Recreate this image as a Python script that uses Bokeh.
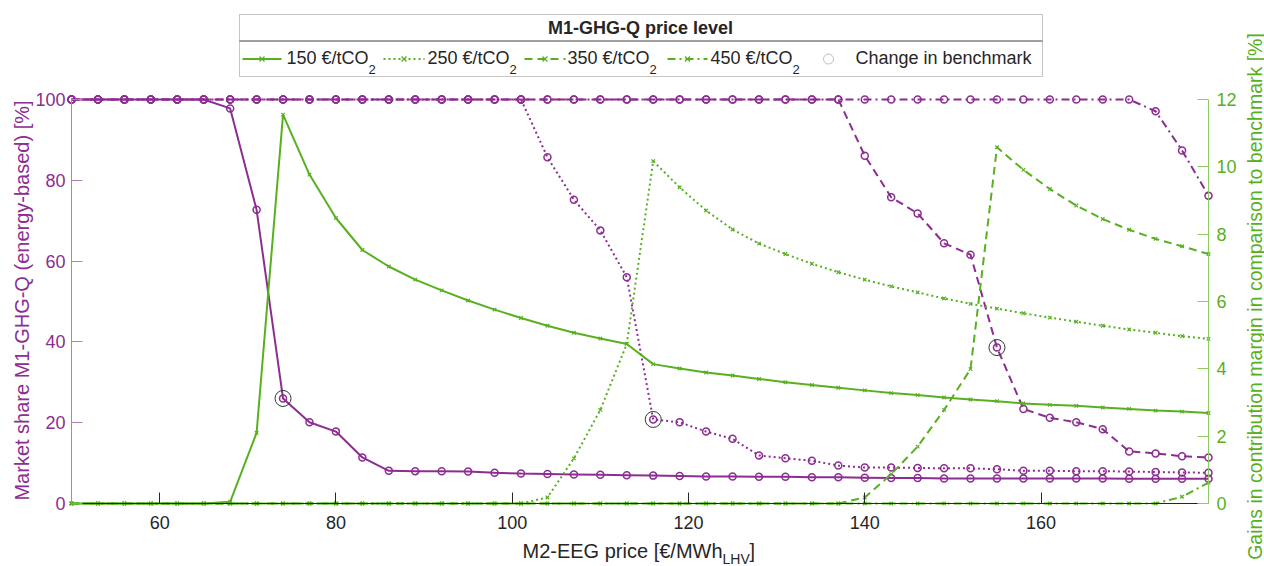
from math import pi
from bokeh.plotting import figure
from bokeh.models import Range1d, LinearAxis, FixedTicker, Label, BoxAnnotation, Arrow
from bokeh.embed import file_html
from bokeh.resources import INLINE

# ---------------- data ----------------
price = [50, 53, 56, 59, 62, 65, 68, 71, 74, 77, 80, 83, 86, 89, 92, 95, 98, 101, 104, 107,
         110, 113, 116, 119, 122, 125, 128, 131, 134, 137, 140, 143, 146, 149, 152, 155, 158,
         161, 164, 167, 170, 173, 176, 179]

share_150 = [100, 100, 100, 100, 100, 100, 97.8, 72.7, 26.0, 20.1, 17.8, 11.4, 8.1, 8.0, 8.0,
             7.9, 7.6, 7.4, 7.3, 7.2, 7.1, 7.0, 6.9, 6.8, 6.7, 6.7, 6.6, 6.6, 6.5, 6.5, 6.4,
             6.3, 6.3, 6.2, 6.2, 6.2, 6.2, 6.2, 6.2, 6.2, 6.1, 6.1, 6.1, 6.1]
gain_150 = [0, 0, 0, 0, 0, 0, 0.05, 2.1, 11.55, 9.77, 8.48, 7.53, 7.04, 6.65, 6.33, 6.03, 5.76,
            5.51, 5.28, 5.07, 4.90, 4.74, 4.14, 4.01, 3.89, 3.80, 3.70, 3.60, 3.52, 3.44, 3.36,
            3.28, 3.22, 3.15, 3.09, 3.04, 2.97, 2.93, 2.90, 2.85, 2.81, 2.76, 2.73, 2.69]

share_250 = [100, 100, 100, 100, 100, 100, 100, 100, 100, 100, 100, 100, 100, 100, 100, 100,
             100, 100, 85.7, 75.2, 67.6, 56.0, 20.8, 20.1, 17.8, 16.0, 11.9, 11.2, 10.6, 9.4,
             8.9, 8.9, 8.8, 8.7, 8.7, 8.5, 8.1, 8.1, 8.0, 8.0, 7.9, 7.8, 7.7, 7.6]
gain_250 = [0, 0, 0, 0, 0, 0, 0, 0, 0, 0, 0, 0, 0, 0, 0, 0, 0, 0, 0.18, 1.34, 2.78, 4.74,
            10.17, 9.39, 8.70, 8.14, 7.72, 7.41, 7.12, 6.87, 6.65, 6.45, 6.27, 6.09, 5.93,
            5.79, 5.65, 5.52, 5.40, 5.28, 5.17, 5.07, 4.97, 4.89]

share_350 = [100, 100, 100, 100, 100, 100, 100, 100, 100, 100, 100, 100, 100, 100, 100, 100,
             100, 100, 100, 100, 100, 100, 100, 100, 100, 100, 100, 100, 100, 100, 86.1, 75.8,
             71.8, 64.4, 61.6, 38.6, 23.4, 21.2, 20.1, 18.4, 12.9, 12.4, 11.7, 11.4]
gain_350 = [0, 0, 0, 0, 0, 0, 0, 0, 0, 0, 0, 0, 0, 0, 0, 0, 0, 0, 0, 0, 0, 0, 0, 0, 0, 0, 0,
            0, 0, 0, 0.18, 0.87, 1.69, 2.78, 3.99, 10.58, 9.91, 9.34, 8.85, 8.45, 8.13, 7.86,
            7.64, 7.41]

share_450 = [100, 100, 100, 100, 100, 100, 100, 100, 100, 100, 100, 100, 100, 100, 100, 100,
             100, 100, 100, 100, 100, 100, 100, 100, 100, 100, 100, 100, 100, 100, 100, 100,
             100, 100, 100, 100, 100, 100, 100, 100, 100, 97.1, 87.4, 76.2]
gain_450 = [0, 0, 0, 0, 0, 0, 0, 0, 0, 0, 0, 0, 0, 0, 0, 0, 0, 0, 0, 0, 0, 0, 0, 0, 0, 0, 0,
            0, 0, 0, 0, 0, 0, 0, 0, 0, 0, 0, 0, 0, 0, 0, 0.2, 0.62]

bench_x = [74, 116, 155]
bench_y = [26.0, 20.8, 38.6]

levels = ["150", "250", "350", "450"]
x_ticks = [60, 80, 100, 120, 140, 160]
left_ticks = [0, 20, 40, 60, 80, 100]
right_ticks = [0, 2, 4, 6, 8, 10, 12]

# ---------------- geometry / style ----------------
W, H = 1264, 566
FL, FR, FT, FB = 71, 1208, 99, 503       # pixel box of the plotted area
XMIN, XMAX = 50, 179
YMAX, RMAX = 100, 12

PURPLE = "#8C2D91"
GREEN = "#58B021"
DARK = "#262626"
FONT = "Liberation Sans"
dashes = {"150": "solid", "250": "2 3", "350": "8 5", "450": "8 4 2 4"}
shares = {"150": share_150, "250": share_250, "350": share_350, "450": share_450}
gains = {"150": gain_150, "250": gain_250, "350": gain_350, "450": gain_450}

kx = (FR - FL) / (XMAX - XMIN)
ky = (FB - FT) / YMAX
kr = (FB - FT) / RMAX

p = figure(width=W, height=H,
           x_range=Range1d(XMIN - FL / kx, XMAX + (W - FR) / kx),
           y_range=Range1d(-(H - FB) / ky, YMAX + FT / ky),
           output_backend="svg", toolbar_location=None,
           min_border_left=0, min_border_right=0, min_border_top=0, min_border_bottom=0)
p.extra_y_ranges = {"gain": Range1d(-(H - FB) / kr, RMAX + FT / kr)}
p.outline_line_color = None
p.xgrid.visible = False
p.ygrid.visible = False
p.background_fill_color = "white"
p.border_fill_color = "white"

# axes
xa = p.xaxis[0]
xa.fixed_location = 0
xa.bounds = (XMIN, XMAX)
xa.ticker = FixedTicker(ticks=x_ticks)
xa.axis_line_color = DARK
xa.major_tick_line_color = DARK
xa.major_tick_in = 11
xa.major_tick_out = 0
xa.minor_tick_line_color = None
xa.major_label_text_font = FONT
xa.major_label_text_font_size = "18px"
xa.major_label_text_color = DARK
xa.major_label_standoff = 12

ya = p.yaxis[0]
ya.fixed_location = XMIN
ya.bounds = (0, YMAX)
ya.ticker = FixedTicker(ticks=left_ticks)
ya.axis_line_color = "#B47FBA"
ya.major_tick_line_color = "#B47FBA"
ya.major_tick_in = 11
ya.major_tick_out = 0
ya.minor_tick_line_color = None
ya.major_label_text_font = FONT
ya.major_label_text_font_size = "18px"
ya.major_label_text_color = PURPLE
ya.major_label_standoff = 6

ra = LinearAxis(y_range_name="gain", ticker=FixedTicker(ticks=right_ticks),
                fixed_location=XMAX, bounds=(0, RMAX))
ra.axis_line_color = "#8ECB64"
ra.major_tick_line_color = "#8ECB64"
ra.major_tick_in = 11
ra.major_tick_out = 0
ra.minor_tick_line_color = None
ra.major_label_text_font = FONT
ra.major_label_text_font_size = "18px"
ra.major_label_text_color = GREEN
ra.major_label_standoff = 8
p.add_layout(ra, "right")

# data
for lv in levels:
    p.line(price, shares[lv], line_color=PURPLE, line_width=2, line_dash=dashes[lv])
    p.scatter(price, shares[lv], marker="circle", size=7, line_color=PURPLE,
              fill_alpha=0, line_width=1.5)
for lv in levels:
    p.line(price, gains[lv], line_color=GREEN, line_width=2, line_dash=dashes[lv],
           y_range_name="gain")
    p.scatter(price, gains[lv], marker="x", size=5, line_color=GREEN, line_width=1.2,
              y_range_name="gain")
p.scatter(bench_x, bench_y, marker="circle", size=16, line_color="#333333",
          fill_alpha=0, line_width=1)

# ---------------- texts and legend (screen units, frame = whole canvas) ----------------
def sy(Y):
    return H - Y

def label(x, Y, text, size, color=DARK, align="left", angle=0, style="normal"):
    p.add_layout(Label(x=x, y=sy(Y), x_units="screen", y_units="screen", text=text,
                       text_font=FONT, text_font_size=size, text_color=color,
                       text_align=align, text_baseline="middle", angle=angle,
                       text_font_style=style))

def seg(x0, Y0, x1, Y1, color, width=1.0, dash="solid"):
    p.add_layout(Arrow(end=None, start=None, x_start=x0, y_start=sy(Y0), x_end=x1,
                       y_end=sy(Y1), start_units="screen", end_units="screen",
                       line_color=color, line_width=width, line_dash=dash))

def box(l, r, t, b, color, width=1.0, radius=0):
    p.add_layout(BoxAnnotation(left=l, right=r, top=sy(t), bottom=sy(b),
                               left_units="screen", right_units="screen",
                               top_units="screen", bottom_units="screen",
                               fill_alpha=0.0, line_color=color, line_width=width,
                               border_radius=radius))

# axis titles
label(522, 550, "M2-EEG price [€/MWh", "20px")
label(722, 558, "LHV", "14px")
label(749, 550, "]", "20px")
label(21, 300, "Market share M1-GHG-Q (energy-based) [%]", "20px", PURPLE, "center", pi / 2)
label(1254, 296, "Gains in contribution margin in comparison to benchmark [%]", "19.5px",
      GREEN, "center", pi / 2)

# legend
box(239, 1042, 14, 76, "#404040", 1.0)
seg(239, 40.5, 1042, 40.5, "#404040")
label(640, 27, "M1-GHG-Q price level", "18px", DARK, "center", style="bold")

entry_x = {"150": (242, 281, 286), "250": (383, 424, 427), "350": (524, 565, 567),
           "450": (667, 707, 710)}
for lv in levels:
    a, b, t = entry_x[lv]
    seg(a, 58.5, b, 58.5, GREEN, 2, dashes[lv])
    m = (a + b) / 2
    seg(m - 2.5, 56, m + 2.5, 61, GREEN, 1.2)
    seg(m - 2.5, 61, m + 2.5, 56, GREEN, 1.2)
    label(t, 57.5, lv + " €/tCO", "18px")
    label(t + 82, 69, "2", "13px")

box(823, 833, 53.5, 63.5, "#333333", 1.0, 5)
label(855, 57.5, "Change in benchmark", "18px")

open("out.html", "w").write(file_html(p, INLINE))
